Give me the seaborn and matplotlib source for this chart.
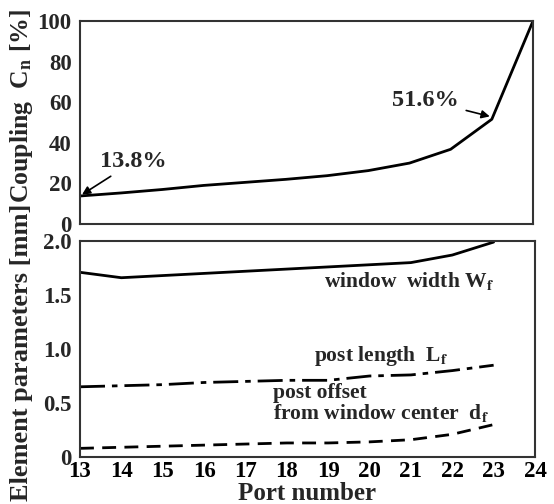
import matplotlib
matplotlib.use("Agg")
import matplotlib.pyplot as plt
import seaborn as sns
import numpy as np
import pandas as pd

ports_top = [13, 14, 15, 16, 17, 18, 19, 20, 21, 22, 23, 24]
coupling = [13.8, 15.3, 17.0, 19.0, 20.5, 22.0, 23.8, 26.3, 30.0, 36.8, 51.6, 100.0]

ports_bot = [13, 14, 15, 16, 17, 18, 19, 20, 21, 22, 23]
window_width = [1.71, 1.66, 1.68, 1.70, 1.72, 1.74, 1.76, 1.78, 1.80, 1.87, 1.99]
post_length = [0.65, 0.66, 0.67, 0.69, 0.70, 0.71, 0.71, 0.75, 0.76, 0.80, 0.85]
post_offset = [0.08, 0.09, 0.10, 0.11, 0.12, 0.13, 0.13, 0.14, 0.16, 0.21, 0.30]

x_ticks = list(range(13, 25))

sns.set_theme(style="white")
plt.rcParams['font.family'] = ['Liberation Serif', 'DejaVu Serif']
plt.rcParams['font.weight'] = 'bold'
plt.rcParams['mathtext.fontset'] = 'stix'

fig = plt.figure(figsize=(5.54, 5.04), dpi=100)
W, H = 554, 504
ax1 = fig.add_axes([80 / W, 1 - 224 / H, 453 / W, 203 / H])
ax2 = fig.add_axes([80 / W, 1 - 457 / H, 455 / W, 216 / H])

df1 = pd.DataFrame({"port": ports_top, "c": coupling})
sns.lineplot(data=df1, x="port", y="c", ax=ax1, color="black", lw=2)
ax1.set_xlim(13, 24)
ax1.set_ylim(0, 100)
ax1.set_xticks(x_ticks)
ax1.set_xticklabels([])
ax1.set_yticks([0, 20, 40, 60, 80, 100])
ax1.set_xlabel("")
ax1.set_ylabel("")

ax1.annotate("13.8%", xy=(13.05, 14.5), xytext=(14.3, 25.5), fontsize=17.5, fontweight="bold",
             ha="center", va="bottom",
             arrowprops=dict(arrowstyle="-|>", color="black", lw=1.2, mutation_scale=12,
                             shrinkA=1, shrinkB=0))
ax1.annotate("51.6%", xy=(22.95, 53), xytext=(22.2, 61), fontsize=17.5, fontweight="bold",
             ha="right", va="center",
             arrowprops=dict(arrowstyle="-|>", color="black", lw=1.2, mutation_scale=12,
                             shrinkA=3, shrinkB=0))

df2 = pd.DataFrame({"port": ports_bot, "w": window_width, "l": post_length, "d": post_offset})
sns.lineplot(data=df2, x="port", y="w", ax=ax2, color="black", lw=2)
sns.lineplot(data=df2, x="port", y="l", ax=ax2, color="black", lw=2, linestyle=(0, (9, 2.5, 2, 2.5)))
sns.lineplot(data=df2, x="port", y="d", ax=ax2, color="black", lw=2, linestyle=(0, (5, 3)))
ax2.set_xlim(13, 24)
ax2.set_ylim(0, 2.0)
ax2.set_xticks(x_ticks)
ax2.set_yticks([0, 0.5, 1.0, 1.5, 2.0])
ax2.set_yticklabels(["0", "0.5", "1.0", "1.5", "2.0"])
ax2.set_xlabel("Port number", fontsize=18, fontweight="bold", labelpad=0)
ax2.set_ylabel("")

ax2.text(23.0, 1.63, "window  width W$_\\mathbf{f}$", fontsize=15.5, fontweight="bold", ha="right", va="center")
ax2.text(21.9, 0.935, "post length  L$_\\mathbf{f}$", fontsize=15.5, fontweight="bold", ha="right", va="center")
ax2.text(17.67, 0.59, "post offset", fontsize=15.5, fontweight="bold", ha="left", va="center")
ax2.text(17.67, 0.405, "from window center  d$_\\mathbf{f}$", fontsize=15.5, fontweight="bold", ha="left", va="center")

for ax in (ax1, ax2):
    for s in ax.spines.values():
        s.set_color("#333333")
        s.set_linewidth(1.5)
    ax.tick_params(axis="x", direction="in", length=5, width=1, colors="#333333",
                   labelcolor="black", labelsize=16.5, pad=3)
    ax.tick_params(axis="y", length=0, labelsize=16.5, pad=6)
    for lab in ax.get_xticklabels() + ax.get_yticklabels():
        lab.set_fontweight("bold")

fig.text(22 / W, 1 - 106 / H, "Coupling  C$_\\mathbf{n}$ [%]", rotation=90, fontsize=18.5,
         fontweight="bold", ha="center", va="center")
fig.text(22 / W, 1 - 352 / H, "Element parameters [mm]", rotation=90, fontsize=19,
         fontweight="bold", ha="center", va="center")

fig.savefig("out.png", dpi=100, facecolor="white")
